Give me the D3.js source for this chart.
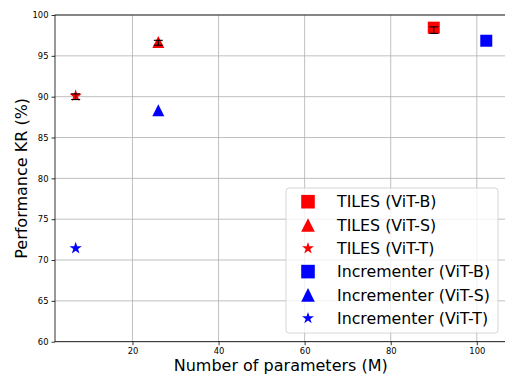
<!DOCTYPE html>
<html><head><meta charset="utf-8">
<script src="https://cdn.jsdelivr.net/npm/d3@7"></script>
<style>body{margin:0;background:#fff}svg{display:block}</style>
</head><body>
<svg id="c" width="505" height="375"></svg>
<script>
const labels = ["TILES (ViT-B)","TILES (ViT-S)","TILES (ViT-T)","Incrementer (ViT-B)","Incrementer (ViT-S)","Incrementer (ViT-T)"];
const shapes = ["square","triangle","star","square","triangle","star"];
const colors = ["#ff0000","#ff0000","#ff0000","#0000ff","#0000ff","#0000ff"];
const params = [90, 26, 6.8, 102.2, 26, 6.8];
const perf = [98.45, 96.7, 90.1, 96.85, 88.35, 71.45];
const errMean = [98.15, 96.6, 90.0, null, null, null];
const errSize = [0.4, 0.3, 0.35, null, null, null];
const xTicks = [20, 40, 60, 80, 100];
const yTicks = [60, 65, 70, 75, 80, 85, 90, 95, 100];

const svg = d3.select("#c");
const L = 55, R = 506.5, T = 15, B = 341.7;
const x = d3.scaleLinear().domain([2.0, 106.9]).range([L, R]);
const y = d3.scaleLinear().domain([60, 100]).range([B, T]);
const font = "DejaVu Sans, sans-serif";

// grid
svg.append("g").selectAll("line").data(xTicks).join("line")
  .attr("x1", d => x(d)).attr("x2", d => x(d)).attr("y1", T).attr("y2", B)
  .attr("stroke", "#b0b0b0").attr("stroke-width", 0.8);
svg.append("g").selectAll("line").data(yTicks).join("line")
  .attr("x1", L).attr("x2", R).attr("y1", d => y(d)).attr("y2", d => y(d))
  .attr("stroke", "#b0b0b0").attr("stroke-width", 0.8);

// axes
const xa = svg.append("g").attr("transform", `translate(0,${B})`)
  .call(d3.axisBottom(x).tickValues(xTicks).tickSize(3.5).tickPadding(3).tickFormat(d3.format("d")));
const ya = svg.append("g").attr("transform", `translate(${L},0)`)
  .call(d3.axisLeft(y).tickValues(yTicks).tickSize(3.5).tickPadding(3).tickFormat(d3.format("d")));
[xa, ya].forEach(a => {
  a.select(".domain").remove();
  a.selectAll("text").attr("font-family", font).attr("font-size", 8.4).attr("fill", "#000");
  a.selectAll("line").attr("stroke", "#000").attr("stroke-width", 0.8);
});
// spines
svg.append("rect").attr("x", L).attr("y", T).attr("width", R - L).attr("height", B - T)
  .attr("fill", "none").attr("stroke", "#000").attr("stroke-width", 0.8);

function shapePath(s, r) {
  if (s === "square") return `M${-r},${-r}H${r}V${r}H${-r}Z`;
  if (s === "triangle") return `M0,${-r}L${r},${r}L${-r},${r}Z`;
  const pts = [];
  const ri = r * 0.381966;
  for (let i = 0; i < 10; i++) {
    const a = -Math.PI / 2 + i * Math.PI / 5;
    const rr = i % 2 === 0 ? r : ri;
    pts.push([rr * Math.cos(a), rr * Math.sin(a)]);
  }
  return "M" + pts.map(p => p.join(",")).join("L") + "Z";
}

const idx = d3.range(labels.length);
const sizes = {square: 6, triangle: 6, star: 6.5};
svg.append("g").selectAll("path").data(idx).join("path")
  .attr("transform", i => `translate(${x(params[i])},${y(perf[i])})`)
  .attr("d", i => shapePath(shapes[i], sizes[shapes[i]]))
  .attr("fill", i => colors[i]);

// error bars
const eb = svg.append("g").attr("stroke", "#000").attr("stroke-width", 1.1);
idx.filter(i => errMean[i] !== null).forEach(i => {
  const cx = x(params[i]), y1 = y(errMean[i] + errSize[i]), y2 = y(errMean[i] - errSize[i]);
  eb.append("line").attr("x1", cx).attr("x2", cx).attr("y1", y1).attr("y2", y2);
  eb.append("line").attr("x1", cx - 4.5).attr("x2", cx + 4.5).attr("y1", y1).attr("y2", y1);
  eb.append("line").attr("x1", cx - 4.5).attr("x2", cx + 4.5).attr("y1", y2).attr("y2", y2);
});

// legend
const lg = svg.append("g");
lg.append("rect").attr("x", 286).attr("y", 188).attr("width", 212).attr("height", 145)
  .attr("rx", 3).attr("fill", "#fff").attr("fill-opacity", 0.8)
  .attr("stroke", "#cccccc").attr("stroke-width", 0.8);
idx.forEach(i => {
  const yy = 201.7 + i * 23.3;
  lg.append("path").attr("transform", `translate(308,${yy})`)
    .attr("d", shapePath(shapes[i], shapes[i] === "star" ? 6.3 : 6.8)).attr("fill", colors[i]);
  lg.append("text").attr("x", 337).attr("y", yy).attr("dy", "0.36em")
    .attr("font-family", font).attr("font-size", 15.8).attr("fill", "#000").text(labels[i]);
});

// axis labels
svg.append("text").attr("x", (L + R) / 2).attr("y", 370.5).attr("text-anchor", "middle")
  .attr("font-family", font).attr("font-size", 16).text("Number of parameters (M)");
svg.append("text").attr("transform", `translate(26.5,${(T + B) / 2}) rotate(-90)`).attr("text-anchor", "middle")
  .attr("font-family", font).attr("font-size", 16).text("Performance KR (%)");
</script>
</body></html>
